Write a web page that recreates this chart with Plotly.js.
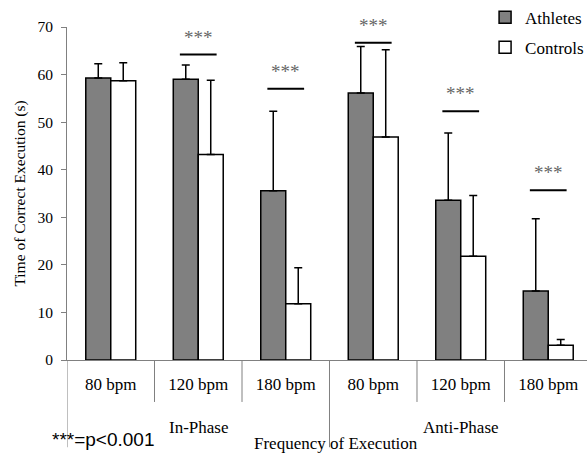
<!DOCTYPE html>
<html>
<head>
<meta charset="utf-8">
<script src="https://cdn.plot.ly/plotly-3.0.1.min.js"></script>
<style>html,body{margin:0;padding:0;background:#fff;}#chart{width:587px;height:455px;}</style>
</head>
<body>
<div id="chart"></div>
<script>
// ---- data ----
var categories = ['80 bpm', '120 bpm', '180 bpm', '80 bpm', '120 bpm', '180 bpm'];
var phases = ['In-Phase', 'Anti-Phase'];
var phaseCenterIndex = [1, 4];
var athletes   = [59.3, 59.0, 35.6, 56.1, 33.6, 14.5];
var athletesSD = [3.0, 3.0, 16.7, 9.8, 14.1, 15.2];
var controls   = [58.7, 43.2, 11.8, 46.9, 21.8, 3.1];
var controlsSD = [3.8, 15.6, 7.6, 18.3, 12.8, 1.2];
var sigLevel   = [null, 64.2, 57.0, 66.7, 52.3, 35.7];
var sigLabel = '***';
var yTicks = [0, 10, 20, 30, 40, 50, 60, 70];

var idx = categories.map(function (_, i) { return i; });
var zeros = categories.map(function () { return 0; });
var serif = "'Liberation Serif', 'Times New Roman', serif";

var traces = [
  {
    type: 'bar', name: 'Athletes', x: idx, y: athletes, legendgroup: 'a',
    marker: { color: '#808080', line: { color: '#000', width: 1.5 } },
    error_y: { type: 'data', symmetric: false, array: athletesSD, arrayminus: zeros,
               color: '#000', thickness: 1.5, width: 4 },
    hoverinfo: 'skip'
  },
  {
    type: 'bar', name: 'Controls', x: idx, y: controls, legendgroup: 'c',
    marker: { color: '#ffffff', line: { color: '#000', width: 1.5 } },
    error_y: { type: 'data', symmetric: false, array: controlsSD, arrayminus: zeros,
               color: '#000', thickness: 1.5, width: 4 },
    hoverinfo: 'skip'
  }
];

var shapes = [];
var annotations = [];
// significance lines and stars
sigLevel.forEach(function (v, i) {
  if (v === null) return;
  shapes.push({ type: 'line', xref: 'x', yref: 'y', x0: i - 0.21, x1: i + 0.21, y0: v, y1: v,
                line: { color: '#000', width: 2 } });
  annotations.push({ xref: 'x', yref: 'y', x: i, y: v, text: sigLabel, showarrow: false,
                     yanchor: 'bottom', yshift: 5,
                     font: { family: serif, size: 19, color: '#666666' } });
});
// category separators (short) and phase separator (long)
for (var k = 0; k < categories.length - 1; k++) {
  var isPhaseBreak = (k === 2);
  shapes.push({ type: 'line', xref: 'x', yref: 'paper', x0: k + 0.5, x1: k + 0.5,
                y0: 0, y1: isPhaseBreak ? -0.262 : -0.126,
                line: { color: '#808080', width: 1 } });
}
// y axis line extension below the x axis
shapes.push({ type: 'line', xref: 'x', yref: 'paper', x0: -0.5, x1: -0.5, y0: 0, y1: -0.262,
              line: { color: '#808080', width: 1 } });
// phase labels
phases.forEach(function (p, j) {
  annotations.push({ xref: 'x', yref: 'paper', x: phaseCenterIndex[j], y: -0.204, text: p,
                     showarrow: false, yanchor: 'middle',
                     font: { family: serif, size: 17, color: '#000' } });
});
// significance key
annotations.push({ xref: 'paper', yref: 'paper', x: -0.033, y: -0.24, xanchor: 'left', yanchor: 'middle',
                   text: '***=p<0.001', showarrow: false,
                   font: { family: "'Liberation Sans', Arial, sans-serif", size: 19, color: '#000' } });
// x axis title, placed like the reference (slightly right of centre)
annotations.push({ xref: 'x', yref: 'paper', x: 2.58, y: -0.25, yanchor: 'middle',
                   text: 'Frequency of Execution', showarrow: false,
                   font: { family: serif, size: 17, color: '#000' } });

var layout = {
  width: 587, height: 455,
  margin: { l: 67, r: 0, t: 26.5, b: 95, autoexpand: false },
  paper_bgcolor: '#fff', plot_bgcolor: '#fff',
  font: { family: serif, size: 15, color: '#000' },
  barmode: 'group', bargap: 0.429, bargroupgap: 0,
  showlegend: true,
  legend: { x: 0.804, xanchor: 'left', y: 1.082, yanchor: 'top', bgcolor: 'rgba(0,0,0,0)',
            font: { family: serif, size: 17, color: '#000' }, tracegroupgap: 5,
            traceorder: 'grouped', itemwidth: 30 },
  xaxis: {
    range: [-0.5, 5.443], tickmode: 'array', tickvals: idx, ticktext: categories,
    showline: true, linecolor: '#808080', linewidth: 1, ticks: '', showgrid: false, zeroline: false,
    ticklabelstandoff: 9, tickfont: { family: serif, size: 17, color: '#000' }
  },
  yaxis: {
    range: [0, 70], tickmode: 'array', tickvals: yTicks,
    showline: true, linecolor: '#808080', linewidth: 1, ticks: 'outside', ticklen: 5, tickcolor: '#808080',
    showgrid: false, zeroline: false, ticklabelstandoff: 5,
    tickfont: { family: serif, size: 15.5, color: '#000' },
    title: { text: 'Time of Correct Execution (s)', standoff: 7, font: { family: serif, size: 15.5, color: '#000' } }
  },
  shapes: shapes,
  annotations: annotations
};

Plotly.newPlot('chart', traces, layout, { staticPlot: true, displayModeBar: false });
</script>
</body>
</html>
